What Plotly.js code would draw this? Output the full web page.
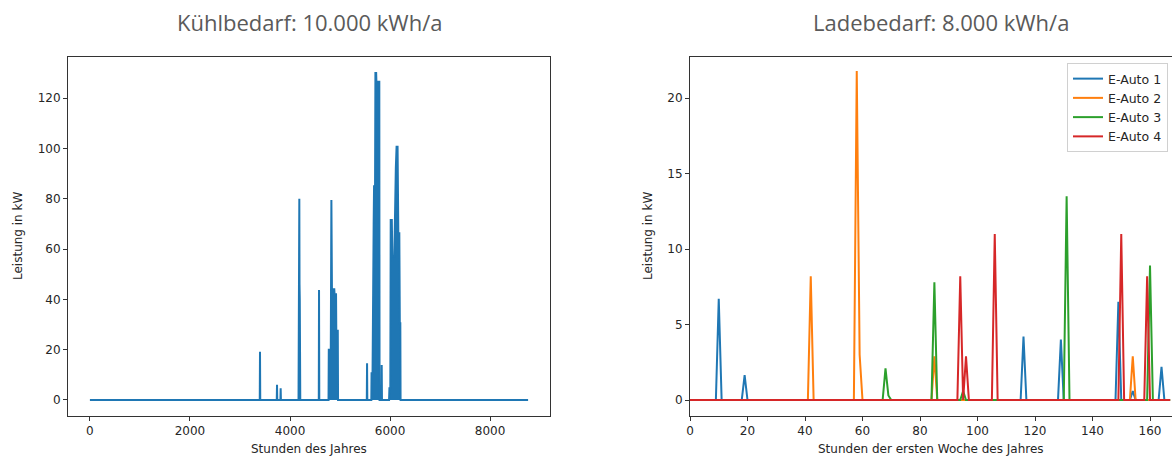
<!DOCTYPE html>
<html>
<head>
<meta charset="utf-8">
<script src="https://cdn.plot.ly/plotly-3.0.1.min.js"></script>
<style>html,body{margin:0;padding:0;background:#fff;}#chart{width:1172px;height:459px;}</style>
</head>
<body>
<div id="chart"></div>
<script>
// ---- Left chart: Kühlbedarf (hours of year, kW) ----
const coolHours = [0,
  3395, 3400, 3405,
  3735, 3740, 3745,
  3808, 3813, 3818,
  4170, 4180, 4186, 4190, 4195, 4200, 4205,
  4575, 4580, 4585,
  4770, 4775, 4815, 4827, 4838, 4885, 4890, 4920, 4925, 4955, 4960,
  5535, 5540, 5545,
  5625, 5630, 5650, 5658, 5672, 5680, 5700, 5707, 5722, 5727, 5785, 5790,
  5828, 5833, 5838,
  5980, 5987, 6005, 6013, 6035, 6045, 6085, 6100, 6115, 6130, 6150, 6165, 6185, 6195, 6205, 6210,
  8759];
const coolKW = [0,
  0, 19.2, 0,
  0, 6.0, 0,
  0, 4.6, 0,
  0, 80, 80, 46, 40, 15, 0,
  0, 43.7, 0,
  0, 20, 20, 79.5, 44, 44, 42, 42, 27.5, 27.5, 0,
  0, 14.6, 0,
  0, 10.6, 10.6, 70, 70, 85, 85, 130, 130, 126.6, 126.6, 0,
  0, 13.9, 0,
  0, 4.6, 4.6, 71.6, 71.6, 57, 57, 92, 92, 100.7, 100.7, 66.3, 66.3, 30.5, 30.5, 0,
  0];

// ---- Right chart: Ladebedarf (hours of first week, kW) ----
const seriesNames = ["E-Auto 1", "E-Auto 2", "E-Auto 3", "E-Auto 4"];
const auto1Hours = [0, 9, 10, 11, 18, 19, 20, 115, 116, 117, 128, 129, 130, 148, 149, 150, 153, 154, 155, 163, 164, 165, 167];
const auto1KW    = [0, 0, 6.7, 0, 0, 1.65, 0, 0, 4.2, 0, 0, 4.0, 0, 0, 6.5, 0, 0, 0.6, 0, 0, 2.2, 0, 0];
const auto2Hours = [0, 41, 42, 43, 57, 58, 59, 60, 84, 85, 86, 153, 154, 155, 167];
const auto2KW    = [0, 0, 8.2, 0, 0, 21.8, 3.0, 0, 0, 2.9, 0, 0, 2.9, 0, 0];
const auto3Hours = [0, 67, 68, 69, 70, 84, 85, 86, 94, 95, 96, 130, 131, 132, 159, 160, 161, 167];
const auto3KW    = [0, 0, 2.1, 0.3, 0, 0, 7.8, 0, 0, 0.6, 0, 0, 13.5, 0, 0, 8.9, 0, 0];
const auto4Hours = [0, 93, 94, 95, 96, 97, 105, 106, 107, 149, 150, 151, 158, 159, 160, 167];
const auto4KW    = [0, 0, 8.2, 0, 2.9, 0, 0, 11.0, 0, 0, 11.0, 0, 0, 8.2, 0, 0];

const leftTicks = [0, 2000, 4000, 6000, 8000];
const leftYTicks = [0, 20, 40, 60, 80, 100, 120];
const rightTicks = [0, 20, 40, 60, 80, 100, 120, 140, 160];
const rightYTicks = [0, 5, 10, 15, 20];

const colors = ["#1f77b4", "#ff7f0e", "#2ca02c", "#d62728"];
const W = 1172, H = 459;
const px = v => v / W;
const py = v => (H - v) / H;

const traces = [
  {x: coolHours, y: coolKW, type: "scatter", mode: "lines", fill: "tozeroy",
   fillcolor: "#1f77b4", line: {color: "#1f77b4", width: 2}, showlegend: false,
   xaxis: "x", yaxis: "y", hoverinfo: "skip"}
];
const rightX = [auto1Hours, auto2Hours, auto3Hours, auto4Hours];
const rightY = [auto1KW, auto2KW, auto3KW, auto4KW];
for (let i = 0; i < 4; i++) {
  traces.push({x: rightX[i], y: rightY[i], type: "scatter", mode: "lines", name: seriesNames[i],
    line: {color: colors[i], width: 2}, xaxis: "x2", yaxis: "y2"});
}

const tickFont = {family: "DejaVu Sans", size: 12, color: "#262626"};
const axisCommon = {showline: true, linecolor: "#333", linewidth: 1, ticks: "outside", ticklen: 4,
  tickcolor: "#333", tickwidth: 1, showgrid: false, zeroline: false, tickfont: tickFont, automargin: false};

const layout = {
  width: W, height: H,
  margin: {l: 0, r: 0, t: 0, b: 0},
  paper_bgcolor: "#fff", plot_bgcolor: "#fff",
  showlegend: true,
  xaxis: Object.assign({}, axisCommon, {domain: [px(68), px(550)], range: [-438, 9197],
    tickvals: leftTicks, ticktext: leftTicks.map(String), mirror: true, anchor: "y"}),
  yaxis: Object.assign({}, axisCommon, {domain: [py(416), py(57)], range: [-6.4, 136.4],
    tickvals: leftYTicks, ticktext: leftYTicks.map(String), mirror: true, anchor: "x"}),
  xaxis2: Object.assign({}, axisCommon, {domain: [px(690), 1], range: [0, 167.65],
    tickvals: rightTicks, ticktext: rightTicks.map(String), mirror: true, anchor: "y2"}),
  yaxis2: Object.assign({}, axisCommon, {domain: [py(416), py(57)], range: [-1.06, 22.72],
    tickvals: rightYTicks, ticktext: rightYTicks.map(String), mirror: false, anchor: "x2"}),
  legend: {x: px(1168), xanchor: "right", y: py(63), yanchor: "top",
    bgcolor: "rgba(255,255,255,0.85)", bordercolor: "#d0d0d0", borderwidth: 1,
    font: {family: "DejaVu Sans", size: 12.5, color: "#262626"}, itemwidth: 30, tracegroupgap: 0},
  annotations: [
    {text: "Kühlbedarf: 10.000 kWh/a", xref: "paper", yref: "paper", x: px(309), y: py(22),
     xanchor: "center", yanchor: "middle", showarrow: false,
     font: {family: "Open Sans", size: 22, color: "#5a5a5a"}},
    {text: "Ladebedarf: 8.000 kWh/a", xref: "paper", yref: "paper", x: px(941), y: py(22),
     xanchor: "center", yanchor: "middle", showarrow: false,
     font: {family: "Open Sans", size: 22, color: "#5a5a5a"}},
    {text: "Stunden des Jahres", xref: "paper", yref: "paper", x: px(309), y: py(449),
     xanchor: "center", yanchor: "middle", showarrow: false, font: tickFont},
    {text: "Stunden der ersten Woche des Jahres", xref: "paper", yref: "paper", x: px(931), y: py(449),
     xanchor: "center", yanchor: "middle", showarrow: false, font: tickFont},
    {text: "Leistung in kW", xref: "paper", yref: "paper", x: px(18), y: py(236),
     xanchor: "center", yanchor: "middle", textangle: -90, showarrow: false, font: tickFont},
    {text: "Leistung in kW", xref: "paper", yref: "paper", x: px(648), y: py(236),
     xanchor: "center", yanchor: "middle", textangle: -90, showarrow: false, font: tickFont}
  ]
};

Plotly.newPlot("chart", traces, layout, {displayModeBar: false, staticPlot: true});
</script>
</body>
</html>
